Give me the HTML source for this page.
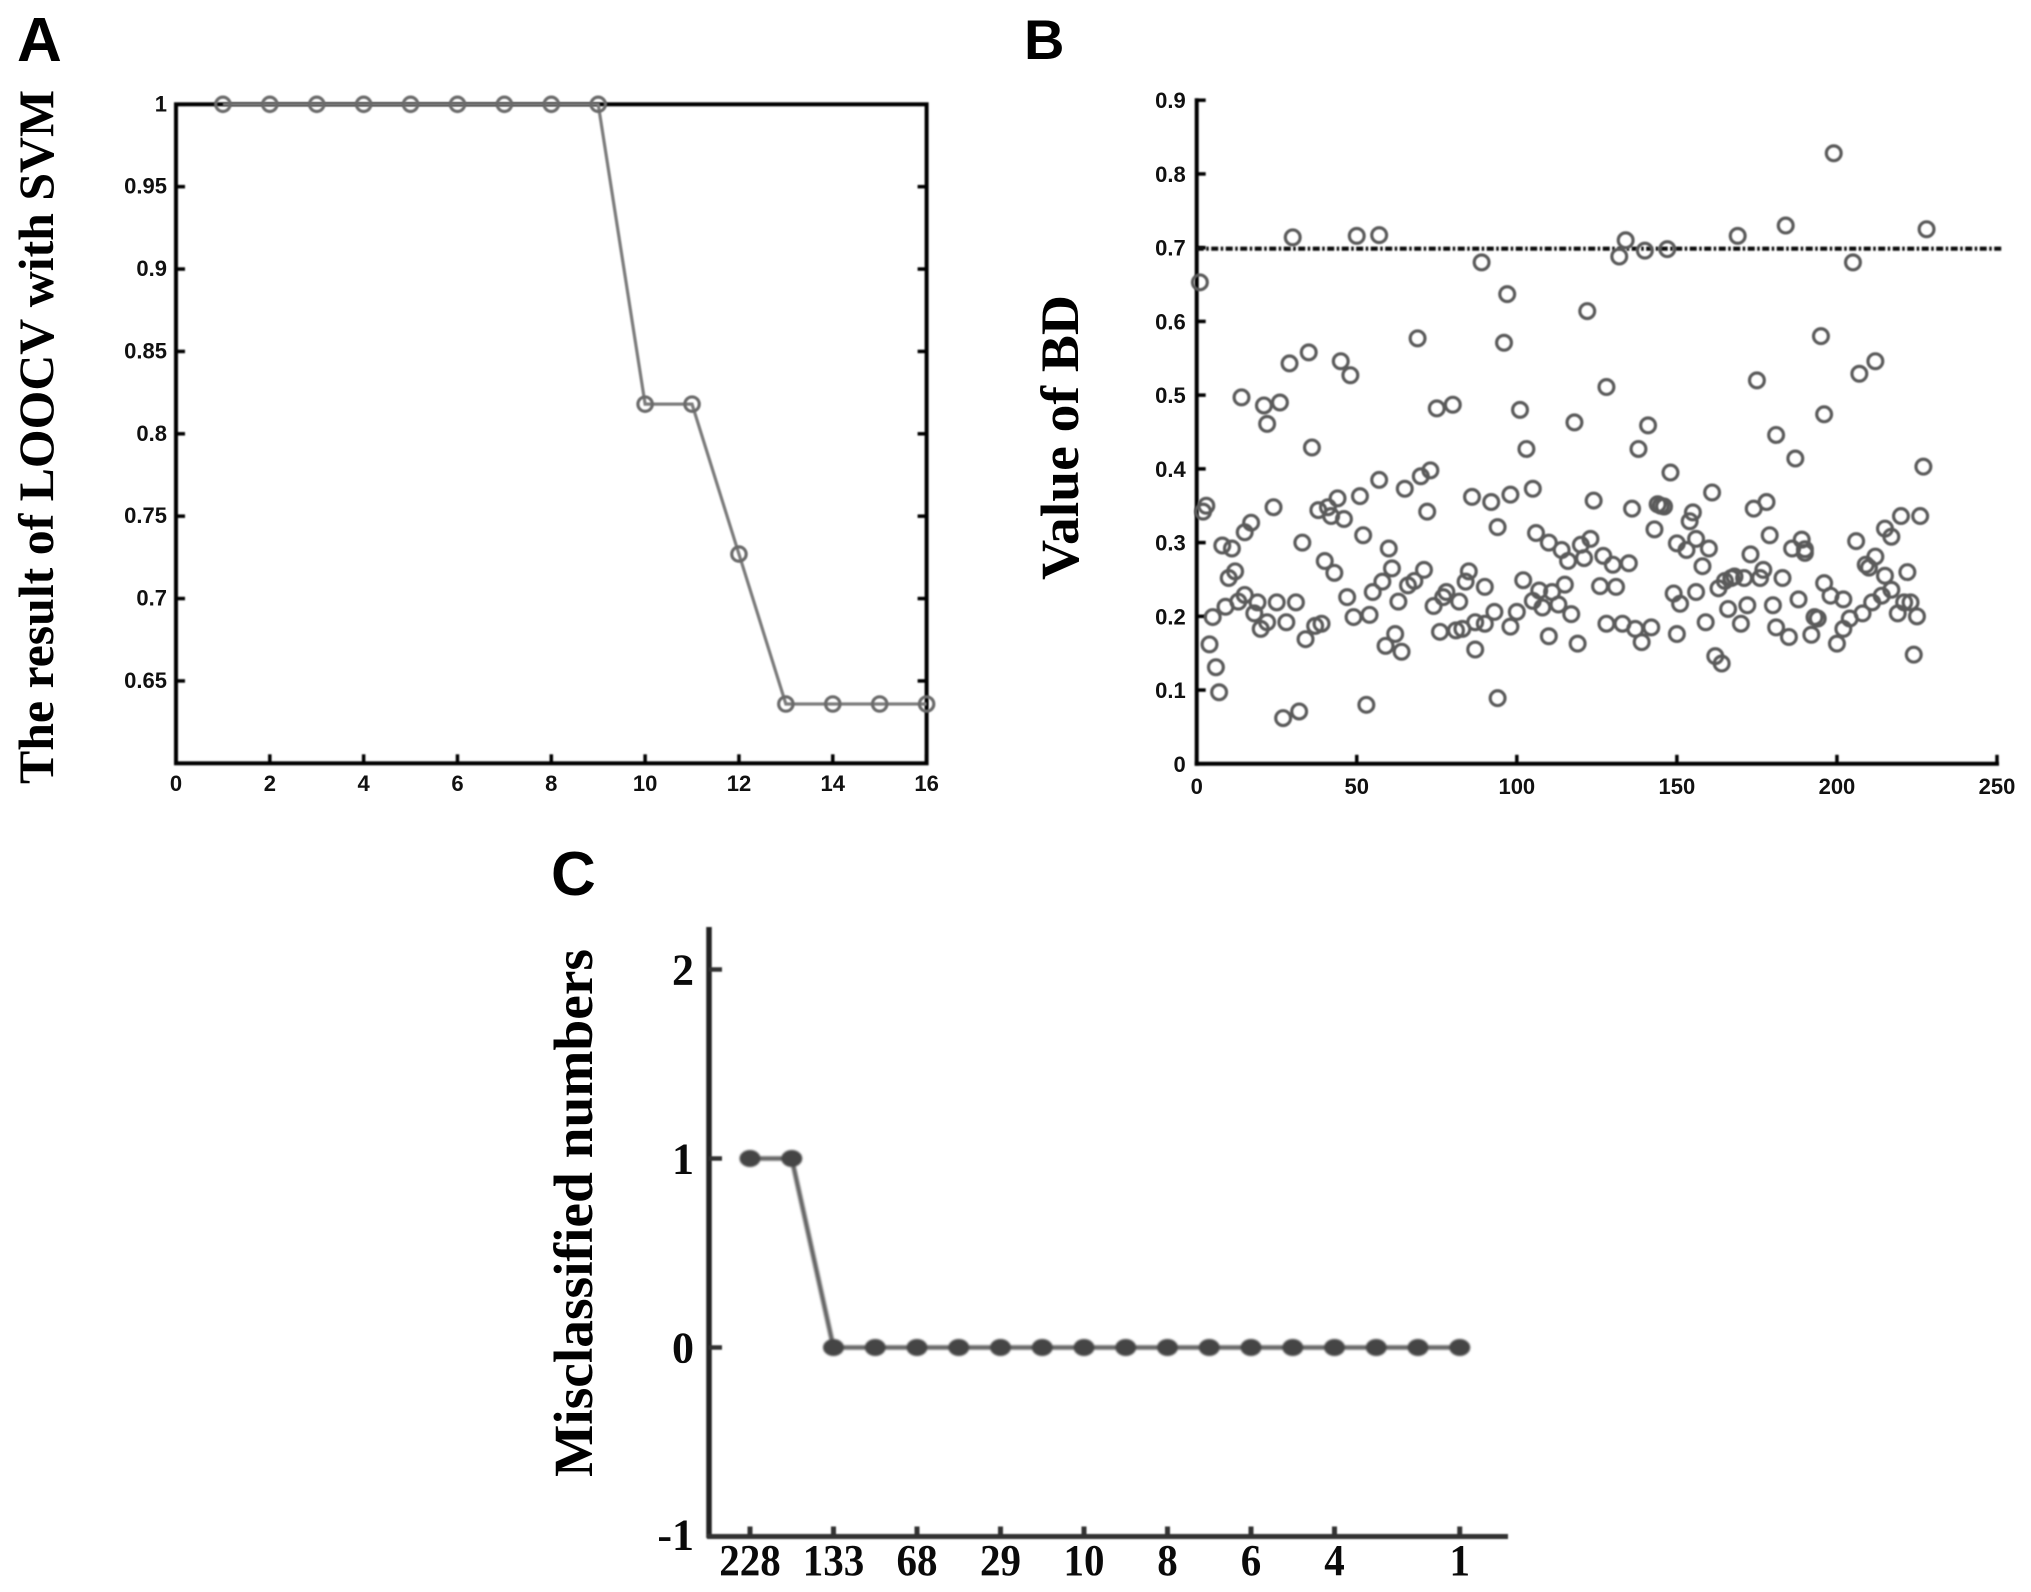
<!DOCTYPE html>
<html lang="en">
<head>
<meta charset="utf-8">
<title>LOOCV, BD values and misclassified numbers</title>
<style>
html,body{margin:0;padding:0;background:#fff;}
svg{display:block;}
.tick-sans{font-family:"Liberation Sans",sans-serif;font-weight:700;font-size:22px;fill:#111;}
.title-serif{font-family:"Liberation Serif",serif;font-weight:700;fill:#000;}
.letter{font-family:"Liberation Sans",sans-serif;font-weight:700;font-size:62px;fill:#000;}
.tick-serif{font-family:"Liberation Serif",serif;font-weight:700;font-size:44px;fill:#0a0a0a;}
</style>
</head>
<body>
<svg id="fig" xmlns="http://www.w3.org/2000/svg" width="2031" height="1592" viewBox="0 0 2031 1592">
  <defs>
    <filter id="soft" x="-5%" y="-5%" width="110%" height="110%"><feGaussianBlur stdDeviation="0.75"/></filter>
    <filter id="softer" x="-5%" y="-5%" width="110%" height="110%"><feGaussianBlur stdDeviation="1.1"/></filter>
  </defs>
  <rect x="0" y="0" width="2031" height="1592" fill="#ffffff"/>

  <text class="letter" x="17" y="61">A</text>
  <text class="letter" x="1024" y="59" style="font-size:56px">B</text>
  <text class="letter" x="551" y="895">C</text>

  <text class="title-serif" font-size="50" transform="translate(53,784) rotate(-90)" textLength="694" lengthAdjust="spacingAndGlyphs">The result of LOOCV with SVM</text>
  <text class="title-serif" font-size="54" transform="translate(1078,580) rotate(-90)" textLength="285" lengthAdjust="spacingAndGlyphs">Value of BD</text>
  <text class="title-serif" font-size="55" transform="translate(592,1477) rotate(-90)" textLength="528" lengthAdjust="spacingAndGlyphs">Misclassified numbers</text>

  <g id="panelA"></g>
  <g id="panelB"></g>
  <g id="panelC"></g>
</svg>

<script>
// Panel A data
const loocvFeatures = [1,2,3,4,5,6,7,8,9,10,11,12,13,14,15,16];
const loocvAccuracy = [1,1,1,1,1,1,1,1,1,0.818,0.818,0.727,0.636,0.636,0.636,0.636];
const loocvXTicks = [0,2,4,6,8,10,12,14,16];
const loocvYTicks = [1,0.95,0.9,0.85,0.8,0.75,0.7,0.65];

// Panel B data
const bdIndex = [199,184,228,30,50,57,134,169,132,140,147,89,205,1,97,122,195,69,96,35,29,45,48,212,207,175,128,14,21,26,22,75,80,101,196,118,141,181,36,138,103,187,227,148,73,70,57,65,105,161,51,44,86,92,98,124,178,3,2,24,38,41,42,46,72,136,144,145,146,155,174,154,17,15,220,226,94,143,215,52,106,179,217,206,33,8,11,60,110,114,123,120,150,153,156,160,186,189,190,190,209,210,212,127,121,116,130,135,173,158,177,176,183,196,215,217,214,222,10,12,61,85,84,71,68,66,58,55,102,43,40,167,165,168,171,163,156,149,126,131,115,90,107,111,78,77,74,82,63,105,108,113,47,15,13,19,25,31,18,198,202,221,223,219,225,211,208,204,193,194,151,172,180,188,166,170,159,181,185,192,202,200,150,133,128,137,142,139,119,117,110,98,100,93,90,87,87,83,81,76,54,49,39,37,34,28,22,20,5,9,4,6,7,27,32,53,94,59,62,64,162,164,224];
const bdValue = [0.828,0.730,0.725,0.714,0.716,0.717,0.710,0.716,0.688,0.696,0.698,0.680,0.680,0.653,0.637,0.614,0.580,0.577,0.571,0.558,0.543,0.546,0.527,0.546,0.529,0.520,0.511,0.497,0.486,0.490,0.461,0.482,0.487,0.480,0.474,0.463,0.459,0.446,0.429,0.427,0.427,0.414,0.403,0.395,0.398,0.390,0.385,0.373,0.373,0.368,0.363,0.360,0.362,0.355,0.365,0.357,0.355,0.350,0.342,0.348,0.344,0.348,0.336,0.332,0.342,0.346,0.352,0.350,0.349,0.341,0.346,0.329,0.327,0.314,0.336,0.336,0.321,0.318,0.319,0.310,0.313,0.310,0.308,0.302,0.300,0.296,0.292,0.292,0.300,0.290,0.305,0.297,0.299,0.290,0.305,0.292,0.292,0.304,0.291,0.286,0.270,0.266,0.281,0.282,0.279,0.275,0.270,0.272,0.284,0.268,0.263,0.252,0.252,0.245,0.255,0.236,0.228,0.260,0.252,0.261,0.265,0.261,0.247,0.263,0.248,0.242,0.247,0.233,0.249,0.259,0.275,0.252,0.248,0.254,0.252,0.238,0.233,0.231,0.241,0.240,0.243,0.240,0.235,0.233,0.233,0.226,0.214,0.220,0.220,0.221,0.212,0.216,0.226,0.229,0.220,0.219,0.219,0.219,0.204,0.228,0.223,0.219,0.219,0.204,0.200,0.219,0.204,0.197,0.199,0.197,0.217,0.215,0.215,0.223,0.210,0.190,0.192,0.185,0.172,0.175,0.183,0.163,0.176,0.190,0.190,0.183,0.185,0.165,0.163,0.203,0.173,0.186,0.206,0.206,0.190,0.192,0.155,0.183,0.181,0.179,0.202,0.199,0.190,0.187,0.169,0.192,0.192,0.183,0.199,0.213,0.162,0.131,0.097,0.062,0.071,0.080,0.089,0.160,0.176,0.152,0.146,0.136,0.148];
const bdThreshold = [0.7];
const bdXTicks = [0,50,100,150,200,250];
const bdYTicks = [0,0.1,0.2,0.3,0.4,0.5,0.6,0.7,0.8,0.9];

// Panel C data
const misclassSteps = [0,1,2,3,4,5,6,7,8,9,10,11,12,13,14,15,16,17];
const misclassCounts = [1,1,0,0,0,0,0,0,0,0,0,0,0,0,0,0,0,0];
const misclassTickSteps = [0,2,4,6,8,10,12,14,17];
const misclassTickLabels = ["228","133","68","29","10","8","6","4","1"];
const misclassYTicks = [2,1,0,-1];

const NS = "http://www.w3.org/2000/svg";
function mk(parent, tag, attrs, text){
  const el = document.createElementNS(NS, tag);
  for (const k in attrs) el.setAttribute(k, attrs[k]);
  if (text !== undefined) el.textContent = text;
  parent.appendChild(el);
  return el;
}

/* ---------- Panel A ---------- */
const xA = v => 176 + (v / 16) * 750.6;
const yA = v => 763.3 - ((v - 0.6) / 0.4) * 659;
const gA = document.getElementById("panelA");

const axesA = mk(gA, "g", {filter:"url(#soft)"});


const boxA = mk(axesA, "rect", {x:xA(0), y:yA(1), width:xA(16)-xA(0), height:yA(0.6)-yA(1), fill:"none", stroke:"#000", "stroke-width":4});


loocvYTicks.forEach(t => {
  const y = yA(t);
  const tl = mk(axesA, "line", {x1:xA(0), x2:xA(0)+9, y1:y, y2:y, stroke:"#000", "stroke-width":3.5});
  
  
  const tr = mk(axesA, "line", {x1:xA(16), x2:xA(16)-9, y1:y, y2:y, stroke:"#000", "stroke-width":3.5});
  
  
  const lb = mk(gA, "text", {class:"tick-sans", x:xA(0)-9, y:y+7, "text-anchor":"end"}, String(t));
  
  
});
loocvXTicks.forEach(t => {
  const x = xA(t);
  const tk = mk(axesA, "line", {x1:x, x2:x, y1:yA(0.6), y2:yA(0.6)-9, stroke:"#000", "stroke-width":3.5});
  
  
  const lb = mk(gA, "text", {class:"tick-sans", x:x, y:791, "text-anchor":"middle"}, String(t));
  
  
});
const marksA = mk(gA, "g", {filter:"url(#soft)"});


const lineA = mk(marksA, "polyline", {
  points: loocvFeatures.map((f,i) => xA(f) + "," + yA(loocvAccuracy[i])).join(" "),
  fill:"none", stroke:"#7c7c7c", "stroke-width":3.2
});


loocvFeatures.forEach((f,i) => {
  const c = mk(marksA, "circle", {cx:xA(f), cy:yA(loocvAccuracy[i]), r:7.2, fill:"none", stroke:"#6a6a6a", "stroke-width":3.2});
  
  
});

/* ---------- Panel B ---------- */
const xB = v => 1196.7 + (v / 250) * 800.3;
const yB = v => 763.8 - (v / 0.9) * 663.6;
const gB = document.getElementById("panelB");

const axesB = mk(gB, "g", {filter:"url(#soft)"});


const yAxisB = mk(axesB, "line", {x1:xB(0), x2:xB(0), y1:yB(0.9)-2, y2:yB(0)+2, stroke:"#000", "stroke-width":4});


const xAxisB = mk(axesB, "line", {x1:xB(0)-2, x2:xB(250)+2, y1:yB(0), y2:yB(0), stroke:"#000", "stroke-width":4});


bdYTicks.forEach(t => {
  const y = yB(t);
  const tk = mk(axesB, "line", {x1:xB(0), x2:xB(0)+9, y1:y, y2:y, stroke:"#000", "stroke-width":3.5});
  
  
  const lb = mk(gB, "text", {class:"tick-sans", x:xB(0)-11, y:y+8, "text-anchor":"end"}, String(t));
  
  
});
bdXTicks.forEach(t => {
  const x = xB(t);
  const tk = mk(axesB, "line", {x1:x, x2:x, y1:yB(0), y2:yB(0)-9, stroke:"#000", "stroke-width":3.5});
  
  
  const lb = mk(gB, "text", {class:"tick-sans", x:x, y:794, "text-anchor":"middle"}, String(t));
  
  
});
const marksB = mk(gB, "g", {filter:"url(#soft)"});


bdThreshold.forEach(t => {
  const th = mk(marksB, "line", {x1:xB(0), x2:xB(252), y1:yB(t)+1, y2:yB(t)+1, stroke:"#111", "stroke-width":4.2, "stroke-dasharray":"7 2.5 2.5 2.5"});
  
  
});
bdIndex.forEach((f,i) => {
  const c = mk(marksB, "circle", {cx:xB(f), cy:yB(bdValue[i]), r:7.4, fill:"none", stroke:"#5a5a5a", "stroke-width":3.2});
  
  
});

/* ---------- Panel C ---------- */
const xC = s => 750 + s * 41.75;
const yC = v => 1347.5 - v * 189;
const gC = document.getElementById("panelC");

const axesC = mk(gC, "g", {filter:"url(#soft)"});


const yAxisC = mk(axesC, "line", {x1:709, x2:709, y1:927, y2:1538, stroke:"#222", "stroke-width":5.5});


const xAxisC = mk(axesC, "line", {x1:707, x2:1508, y1:yC(-1), y2:yC(-1), stroke:"#333", "stroke-width":5});


misclassYTicks.forEach(t => {
  const y = yC(t);
  if (t !== -1) {
    const tk = mk(axesC, "line", {x1:709, x2:722, y1:y, y2:y, stroke:"#333", "stroke-width":4.5});
    
    
  }
  const lb = mk(gC, "text", {class:"tick-serif", x:694, y:t === -1 ? y+13 : y+15, "text-anchor":"end"}, String(t));
  
  
});
misclassTickSteps.forEach((s,i) => {
  const x = xC(s);
  const tk = mk(axesC, "line", {x1:x, x2:x, y1:yC(-1), y2:yC(-1)-10, stroke:"#333", "stroke-width":5});
  
  
  const label = misclassTickLabels[i];
  const lb = mk(gC, "text", {class:"tick-serif", x:x, y:1575, "text-anchor":"middle", textLength:label.length*20.5, lengthAdjust:"spacingAndGlyphs"}, label);
  
  
});
const marksC = mk(gC, "g", {filter:"url(#softer)"});


const lineC = mk(marksC, "polyline", {
  points: misclassSteps.map((s,i) => xC(s) + "," + yC(misclassCounts[i])).join(" "),
  fill:"none", stroke:"#666", "stroke-width":4.6
});


misclassSteps.forEach((s,i) => {
  const e = mk(marksC, "ellipse", {cx:xC(s), cy:yC(misclassCounts[i]), rx:10.5, ry:8.5, fill:"#454545"});
  
  
});
</script>
</body>
</html>
